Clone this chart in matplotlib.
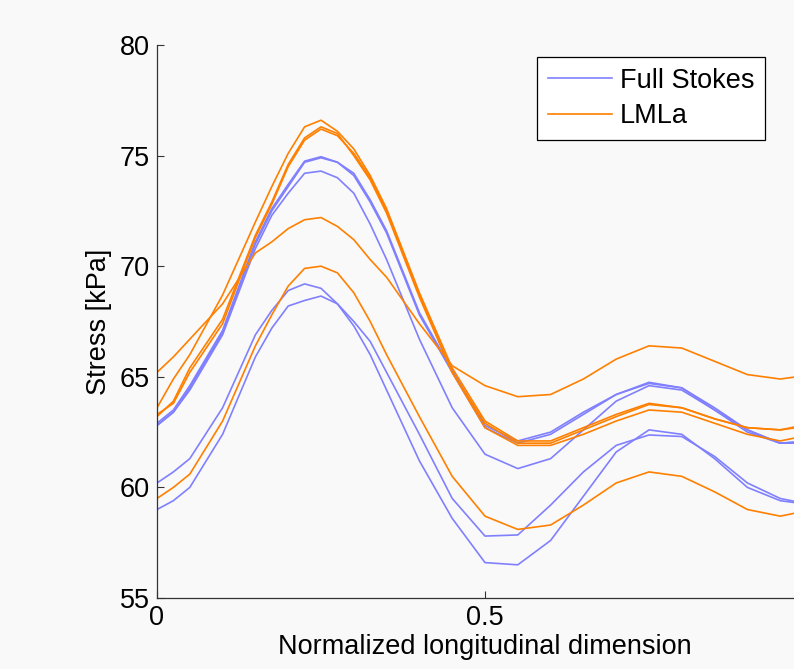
import matplotlib.pyplot as plt
import numpy as np

# position along the flowline (normalized) and stress profiles in kPa
x = [0, 0.025, 0.05, 0.1, 0.15, 0.175, 0.2, 0.225, 0.25, 0.275, 0.3, 0.325, 0.35,
     0.4, 0.45, 0.5, 0.55, 0.6, 0.65, 0.7, 0.75, 0.8, 0.85, 0.9, 0.95, 1.0]

fs_1 = [62.8, 63.4, 64.5, 67.0, 71.0, 72.5, 73.6, 74.7, 74.9, 74.7, 74.2, 73.0, 71.6,
        67.9, 65.3, 62.8, 62.1, 62.5, 63.4, 64.2, 64.7, 64.5, 63.6, 62.6, 62.0, 62.1]
fs_2 = [62.9, 63.5, 64.6, 67.1, 71.1, 72.6, 73.7, 74.75, 74.95, 74.7, 74.1, 72.9, 71.5,
        67.8, 65.2, 62.7, 62.0, 62.4, 63.3, 64.2, 64.75, 64.5, 63.5, 62.5, 62.0, 62.1]
fs_3 = [62.8, 63.4, 64.4, 66.9, 70.8, 72.3, 73.3, 74.2, 74.3, 74.0, 73.3, 71.9, 70.3,
        66.7, 63.6, 61.5, 60.85, 61.3, 62.6, 63.9, 64.6, 64.4, 63.5, 62.6, 62.0, 62.0]
fs_4 = [60.2, 60.7, 61.3, 63.6, 66.9, 68.0, 68.9, 69.2, 69.0, 68.3, 67.3, 66.0, 64.4,
        61.2, 58.6, 56.6, 56.5, 57.6, 59.6, 61.6, 62.6, 62.4, 61.3, 60.0, 59.4, 59.2]
fs_5 = [59.0, 59.4, 60.0, 62.4, 65.9, 67.2, 68.2, 68.45, 68.65, 68.3, 67.5, 66.6, 65.2,
        62.4, 59.5, 57.8, 57.85, 59.2, 60.7, 61.9, 62.37, 62.3, 61.4, 60.2, 59.5, 59.2]

lm_1 = [63.6, 64.9, 66.0, 68.7, 72.0, 73.6, 75.1, 76.3, 76.6, 76.1, 75.3, 74.1, 72.6,
        68.8, 65.4, 63.0, 62.1, 62.1, 62.7, 63.3, 63.8, 63.6, 63.1, 62.7, 62.6, 62.9]
lm_2 = [63.2, 63.9, 65.4, 67.6, 71.4, 72.9, 74.6, 75.8, 76.3, 76.0, 75.0, 73.9, 72.4,
        68.6, 65.2, 62.9, 62.0, 62.0, 62.6, 63.2, 63.75, 63.6, 63.1, 62.7, 62.6, 62.8]
lm_3 = [63.3, 63.8, 65.2, 67.4, 71.3, 72.8, 74.5, 75.7, 76.2, 75.9, 75.1, 74.0, 72.5,
        68.7, 65.2, 62.7, 61.9, 61.9, 62.4, 63.0, 63.5, 63.4, 62.9, 62.4, 62.1, 62.4]
lm_4 = [65.2, 65.9, 66.7, 68.3, 70.6, 71.1, 71.7, 72.1, 72.2, 71.8, 71.2, 70.3, 69.5,
        67.4, 65.5, 64.6, 64.1, 64.2, 64.9, 65.8, 66.4, 66.3, 65.7, 65.1, 64.9, 65.1]
lm_5 = [59.5, 60.0, 60.6, 63.0, 66.4, 67.8, 69.1, 69.9, 70.0, 69.7, 68.8, 67.5, 66.0,
        63.2, 60.5, 58.7, 58.1, 58.3, 59.2, 60.2, 60.7, 60.5, 59.8, 59.0, 58.7, 59.0]

full_stokes = [fs_1, fs_2, fs_3, fs_4, fs_5]
lmla = [lm_1, lm_2, lm_3, lm_4, lm_5]

bg = '#f9f9f9'
blue = '#8080ff'
orange = '#ff8000'

plt.rcParams['font.family'] = ['Liberation Sans', 'DejaVu Sans']
plt.rcParams['font.size'] = 19.5

fig = plt.figure(figsize=(7.94, 6.69), dpi=100, facecolor=bg)
ax = fig.add_axes([157 / 794, 71 / 669, 656 / 794, 553 / 669])
ax.set_facecolor(bg)

for i, y in enumerate(full_stokes):
    ax.plot(x, y, color=blue, lw=1.2, label='Full Stokes' if i == 0 else None)
for i, y in enumerate(lmla):
    ax.plot(x, y, color=orange, lw=1.2, label='LMLa' if i == 0 else None)

ax.set_xlim(0, 1)
ax.set_ylim(55, 80)
ax.set_xticks([0, 0.5])
ax.set_xticklabels(['0', '0.5'])
ax.set_yticks(np.arange(55, 81, 5))
ax.tick_params(direction='in', length=5, width=0.8, color='#333333', pad=5)
for side in ['top', 'right']:
    ax.spines[side].set_visible(False)
for side in ['left', 'bottom']:
    ax.spines[side].set_color('#333333')
    ax.spines[side].set_linewidth(0.9)

ax.set_xlabel('Normalized longitudinal dimension', labelpad=2)
ax.set_ylabel('Stress [kPa]', labelpad=6)

leg = ax.legend(loc='upper right', bbox_to_anchor=(765 / 794, 1 - 57 / 669),
                bbox_transform=fig.transFigure, borderaxespad=0, fancybox=False,
                framealpha=1, edgecolor='black', handlelength=2.35,
                handletextpad=0.3, labelspacing=0.35, borderpad=0.4)
leg.get_frame().set_linewidth(0.9)

fig.savefig('out.png', dpi=100, facecolor=bg)
